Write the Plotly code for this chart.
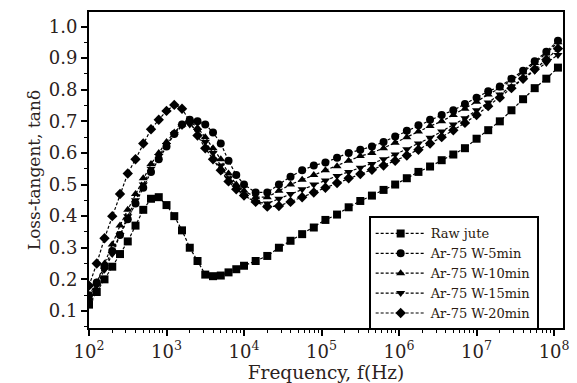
import plotly.graph_objects as go

# log10 of frequency (Hz)
freq_exp = [2.0, 2.1, 2.2, 2.3, 2.4, 2.5, 2.6, 2.7, 2.8, 2.9, 3.0, 3.1, 3.2, 3.3, 3.4, 3.5,
            3.6, 3.7, 3.8, 3.9, 4.0, 4.15, 4.3, 4.45, 4.6, 4.75, 4.9, 5.05, 5.2, 5.35, 5.5,
            5.65, 5.8, 5.95, 6.1, 6.25, 6.4, 6.55, 6.7, 6.85, 7.0, 7.15, 7.3, 7.45, 7.6,
            7.75, 7.9, 8.05]

raw_jute = [0.12, 0.16, 0.20, 0.24, 0.28, 0.32, 0.37, 0.42, 0.455, 0.46, 0.435, 0.40, 0.355,
            0.30, 0.258, 0.215, 0.21, 0.212, 0.222, 0.232, 0.243, 0.258, 0.274, 0.30, 0.322,
            0.343, 0.364, 0.388, 0.405, 0.428, 0.448, 0.465, 0.483, 0.50, 0.52, 0.54, 0.557,
            0.577, 0.595, 0.615, 0.645, 0.672, 0.70, 0.735, 0.77, 0.805, 0.835, 0.87]

ar_5min = [0.15, 0.19, 0.24, 0.29, 0.34, 0.39, 0.44, 0.49, 0.54, 0.58, 0.62, 0.66, 0.69,
           0.705, 0.70, 0.69, 0.665, 0.63, 0.575, 0.53, 0.50, 0.475, 0.475, 0.50, 0.525,
           0.545, 0.56, 0.57, 0.585, 0.60, 0.61, 0.62, 0.635, 0.652, 0.67, 0.688, 0.705,
           0.72, 0.735, 0.755, 0.775, 0.795, 0.81, 0.835, 0.86, 0.89, 0.92, 0.955]

ar_10min = [0.14, 0.19, 0.25, 0.31, 0.37, 0.42, 0.47, 0.52, 0.565, 0.60, 0.635, 0.665, 0.69,
            0.70, 0.68, 0.65, 0.615, 0.58, 0.535, 0.50, 0.48, 0.46, 0.46, 0.48, 0.50, 0.515,
            0.53, 0.545, 0.558, 0.575, 0.59, 0.60, 0.615, 0.632, 0.65, 0.668, 0.685, 0.70,
            0.72, 0.74, 0.762, 0.785, 0.805, 0.83, 0.855, 0.885, 0.915, 0.95]

ar_15min = [0.13, 0.18, 0.23, 0.28, 0.34, 0.40, 0.45, 0.50, 0.55, 0.59, 0.625, 0.66, 0.685,
            0.69, 0.67, 0.635, 0.60, 0.56, 0.52, 0.49, 0.465, 0.445, 0.44, 0.455, 0.47, 0.485,
            0.50, 0.513, 0.527, 0.54, 0.553, 0.565, 0.58, 0.595, 0.612, 0.63, 0.648, 0.668,
            0.69, 0.71, 0.735, 0.76, 0.785, 0.81, 0.835, 0.86, 0.885, 0.91]

ar_20min = [0.18, 0.25, 0.33, 0.40, 0.47, 0.535, 0.58, 0.63, 0.675, 0.705, 0.733, 0.752, 0.74,
            0.70, 0.655, 0.615, 0.58, 0.545, 0.51, 0.485, 0.465, 0.445, 0.43, 0.432, 0.445,
            0.46, 0.475, 0.49, 0.505, 0.52, 0.533, 0.547, 0.56, 0.575, 0.592, 0.61, 0.63,
            0.65, 0.672, 0.695, 0.72, 0.748, 0.775, 0.805, 0.835, 0.865, 0.895, 0.93]

series_names = ["Raw jute", "Ar-75 W-5min", "Ar-75 W-10min", "Ar-75 W-15min", "Ar-75 W-20min"]
series_values = [raw_jute, ar_5min, ar_10min, ar_15min, ar_20min]
symbols = ["square", "circle", "triangle-up", "triangle-down", "diamond"]

x_tick_exps = [2, 3, 4, 5, 6, 7, 8]
y_ticks = [0.1, 0.2, 0.3, 0.4, 0.5, 0.6, 0.7, 0.8, 0.9, 1.0]

freq = [10 ** e for e in freq_exp]

fig = go.Figure()
for name, vals, sym in zip(series_names, series_values, symbols):
    fig.add_trace(go.Scatter(
        x=freq, y=vals, name=name, mode="lines+markers",
        line=dict(color="black", width=1.2, dash="3px,2px"),
        marker=dict(symbol=sym, size=8, color="black"),
    ))

minor_x = [k * 10 ** n for n in range(2, 9) for k in range(2, 10) if k * 10 ** n < 1.3e8]
minor_y = [0.05 + 0.1 * i for i in range(11)]

font_family = "DejaVu Serif, Liberation Serif, serif"
text_color = "#2b2220"
fig.update_layout(
    width=577, height=383,
    margin=dict(l=89, r=8, t=12, b=54),
    paper_bgcolor="white", plot_bgcolor="white",
    font=dict(family=font_family, color=text_color, size=16),
    showlegend=True,
    legend=dict(
        x=0.59, y=0.353, xanchor="left", yanchor="top",
        bgcolor="white", bordercolor="black", borderwidth=2,
        font=dict(family=font_family, size=13, color="#2a1a10"),
        tracegroupgap=0, itemwidth=50,
    ),
)
fig.update_xaxes(
    type="log", range=[2, 8.115],
    tickmode="array", tickvals=[10 ** e for e in x_tick_exps],
    ticktext=["10<sup>%d</sup>" % e for e in x_tick_exps],
    ticks="outside", ticklen=6, tickwidth=1.5, tickcolor="black",
    minor=dict(tickvals=minor_x, ticks="outside", ticklen=3, tickwidth=1.2, tickcolor="black"),
    showline=True, linecolor="black", linewidth=2, mirror=True,
    showgrid=False, zeroline=False,
    tickfont=dict(size=18),
    title=dict(text="Frequency, f(Hz)", font=dict(size=18.5), standoff=0),
)
fig.update_yaxes(
    range=[0.046, 1.046],
    tickmode="array", tickvals=y_ticks, ticktext=["%.1f" % v for v in y_ticks],
    ticks="outside", ticklen=6, tickwidth=1.5, tickcolor="black",
    minor=dict(tickvals=minor_y, ticks="outside", ticklen=3, tickwidth=1.2, tickcolor="black"),
    showline=True, linecolor="black", linewidth=2, mirror=True,
    showgrid=False, zeroline=False,
    tickfont=dict(size=18),
    title=dict(text="Loss-tangent, tanδ", font=dict(size=17), standoff=4),
)

fig.write_html("out.html")
